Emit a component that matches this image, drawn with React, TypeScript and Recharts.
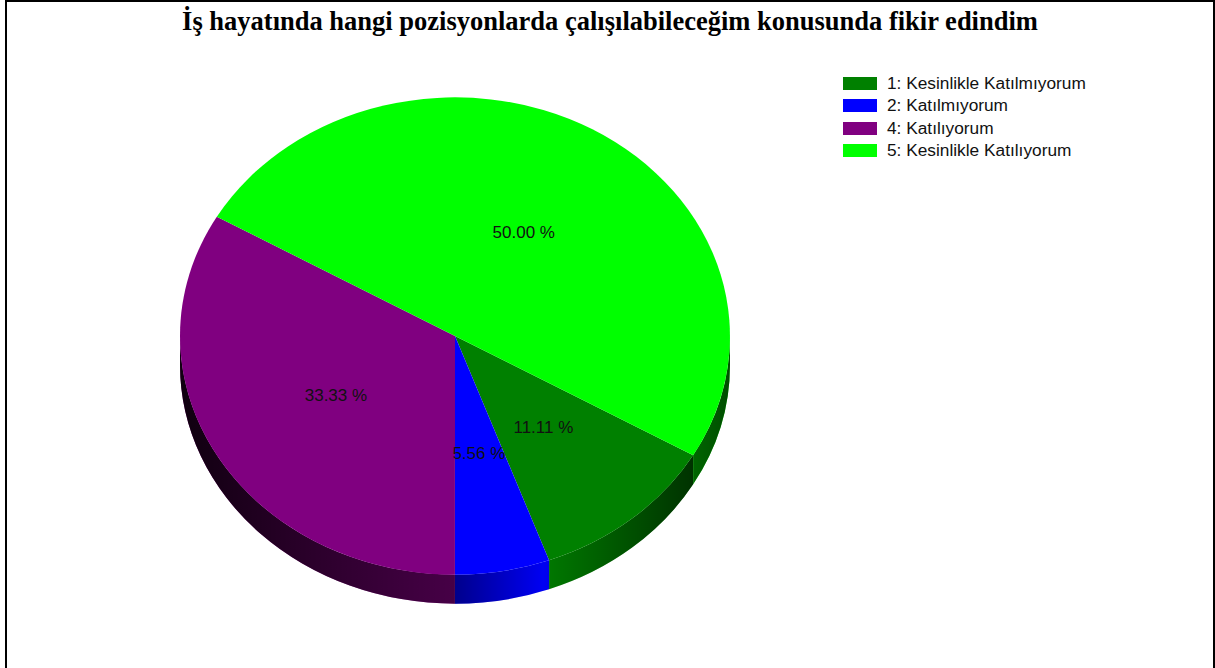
import { Legend, Pie, PieChart } from 'recharts';

const categories = [
  '1: Kesinlikle Katılmıyorum',
  '2: Katılmıyorum',
  '4: Katılıyorum',
  '5: Kesinlikle Katılıyorum',
];
const percents = [11.11, 5.56, 33.33, 50.0];
const colors = ['#008000', '#0000ff', '#800080', '#00ff00'];

const data = categories.map((name, i) => ({ name, value: percents[i] }));

const TITLE = 'İş hayatında hangi pozisyonlarda çalışılabileceğim konusunda fikir edindim';

// the pie is drawn as a flattened ellipse with a side wall
const RATIO = 0.868;
const DEPTH = 29;

const pt = (cx: number, cy: number, rx: number, ry: number, deg: number) => {
  const r = (deg * Math.PI) / 180;
  return [cx + rx * Math.cos(r), cy - ry * Math.sin(r)];
};

// slices drawn through the label hook so the library gives us the angles
const renderSlice = (props: any) => {
  const { cx, cy, outerRadius, startAngle, endAngle, index } = props;
  const rx = outerRadius;
  const ry = rx * RATIO;
  const hi = Math.max(startAngle, endAngle);
  const lo = Math.min(startAngle, endAngle);
  const color = colors[index % colors.length];

  const [x1, y1] = pt(cx, cy, rx, ry, hi);
  const [x2, y2] = pt(cx, cy, rx, ry, lo);
  const large = hi - lo > 180 ? 1 : 0;
  const top = `M${cx},${cy} L${x1},${y1} A${rx},${ry} 0 ${large} 1 ${x2},${y2} Z`;

  // parts of the slice that face the viewer (lower half of the ellipse)
  const sides: string[] = [];
  for (const [a, b] of [[-180, 0], [-540, -360], [180, 360]]) {
    const s = Math.max(lo, a);
    const e = Math.min(hi, b);
    if (e > s) {
      const [ax, ay] = pt(cx, cy, rx, ry, e);
      const [bx, by] = pt(cx, cy, rx, ry, s);
      sides.push(
        `M${ax},${ay} A${rx},${ry} 0 0 1 ${bx},${by} L${bx},${by + DEPTH} A${rx},${ry} 0 0 0 ${ax},${ay + DEPTH} Z`
      );
    }
  }

  return (
    <g key={`slice-${index}`}>
      {index === 0 && (
        <defs>
          <linearGradient id="sideShade" gradientUnits="userSpaceOnUse" x1={cx - rx} y1={0} x2={cx + rx} y2={0}>
            <stop offset="0" stopColor="#000" stopOpacity={0.88} />
            <stop offset="0.2" stopColor="#000" stopOpacity={0.7} />
            <stop offset="0.5" stopColor="#000" stopOpacity={0.45} />
            <stop offset="0.66" stopColor="#000" stopOpacity={0.05} />
            <stop offset="0.76" stopColor="#000" stopOpacity={0.25} />
            <stop offset="0.93" stopColor="#000" stopOpacity={0.6} />
            <stop offset="1" stopColor="#000" stopOpacity={0.7} />
          </linearGradient>
        </defs>
      )}
      {sides.map((d, i) => (
        <g key={i}>
          <path d={d} fill={color} />
          <path d={d} fill="url(#sideShade)" />
        </g>
      ))}
      <path d={top} fill={color} />
    </g>
  );
};

const renderPercent = (props: any) => {
  const { cx, cy, outerRadius, midAngle, index } = props;
  const value = props.value ?? props.payload?.value;
  const [x, y] = pt(cx, cy, outerRadius * 0.5, outerRadius * RATIO * 0.5, midAngle);
  return (
    <text
      key={`pct-${index}`}
      x={x}
      y={y}
      textAnchor="middle"
      dominantBaseline="central"
      fontSize={17}
      fontFamily="'Liberation Sans', Arial, sans-serif"
      fill="#111"
    >
      {`${Number(value).toFixed(2)} %`}
    </text>
  );
};

const renderLegend = () => (
  <div>
    {categories.map((name, i) => (
      <div key={name} style={{ display: 'flex', alignItems: 'center', height: 22.5 }}>
        <span style={{ width: 34, height: 13, backgroundColor: colors[i], marginRight: 10 }} />
        <span style={{ fontSize: 17.3, fontFamily: "'Liberation Sans', Arial, sans-serif", color: '#111' }}>
          {name}
        </span>
      </div>
    ))}
  </div>
);

export default function App() {
  return (
    <div style={{ position: 'absolute', left: 0, top: 0, width: 1215, height: 668, overflow: 'hidden', background: '#fff' }}>
      <div
        style={{
          position: 'absolute',
          left: 5,
          top: 0,
          width: 1210,
          height: 720,
          border: '2px solid #000',
          boxSizing: 'border-box',
        }}
      />
      <div
        style={{
          position: 'absolute',
          left: 5,
          top: 6,
          width: 1210,
          textAlign: 'center',
          fontFamily: "'Liberation Serif', 'Times New Roman', serif",
          fontWeight: 'bold',
          fontSize: 26.5,
          lineHeight: '30px',
          color: '#000',
        }}
      >
        {TITLE}
      </div>
      <div style={{ position: 'absolute', left: 0, top: 0 }}>
        <PieChart width={1215} height={668} margin={{ top: 0, right: 0, bottom: 0, left: 0 }}>
          <Pie
            data={data}
            dataKey="value"
            nameKey="name"
            cx={455}
            cy={336}
            outerRadius={275}
            startAngle={-30}
            endAngle={-390}
            fill="none"
            stroke="none"
            label={renderSlice}
            labelLine={false}
            isAnimationActive={false}
            legendType="none"
          />
          <Pie
            data={data}
            dataKey="value"
            nameKey="name"
            cx={455}
            cy={336}
            outerRadius={275}
            startAngle={-30}
            endAngle={-390}
            fill="none"
            stroke="none"
            label={renderPercent}
            labelLine={false}
            isAnimationActive={false}
            legendType="none"
          />
          <Legend
            layout="vertical"
            align="right"
            verticalAlign="top"
            content={renderLegend}
            wrapperStyle={{ left: 843, top: 72, width: 320, right: 'auto' }}
          />
        </PieChart>
      </div>
    </div>
  );
}
